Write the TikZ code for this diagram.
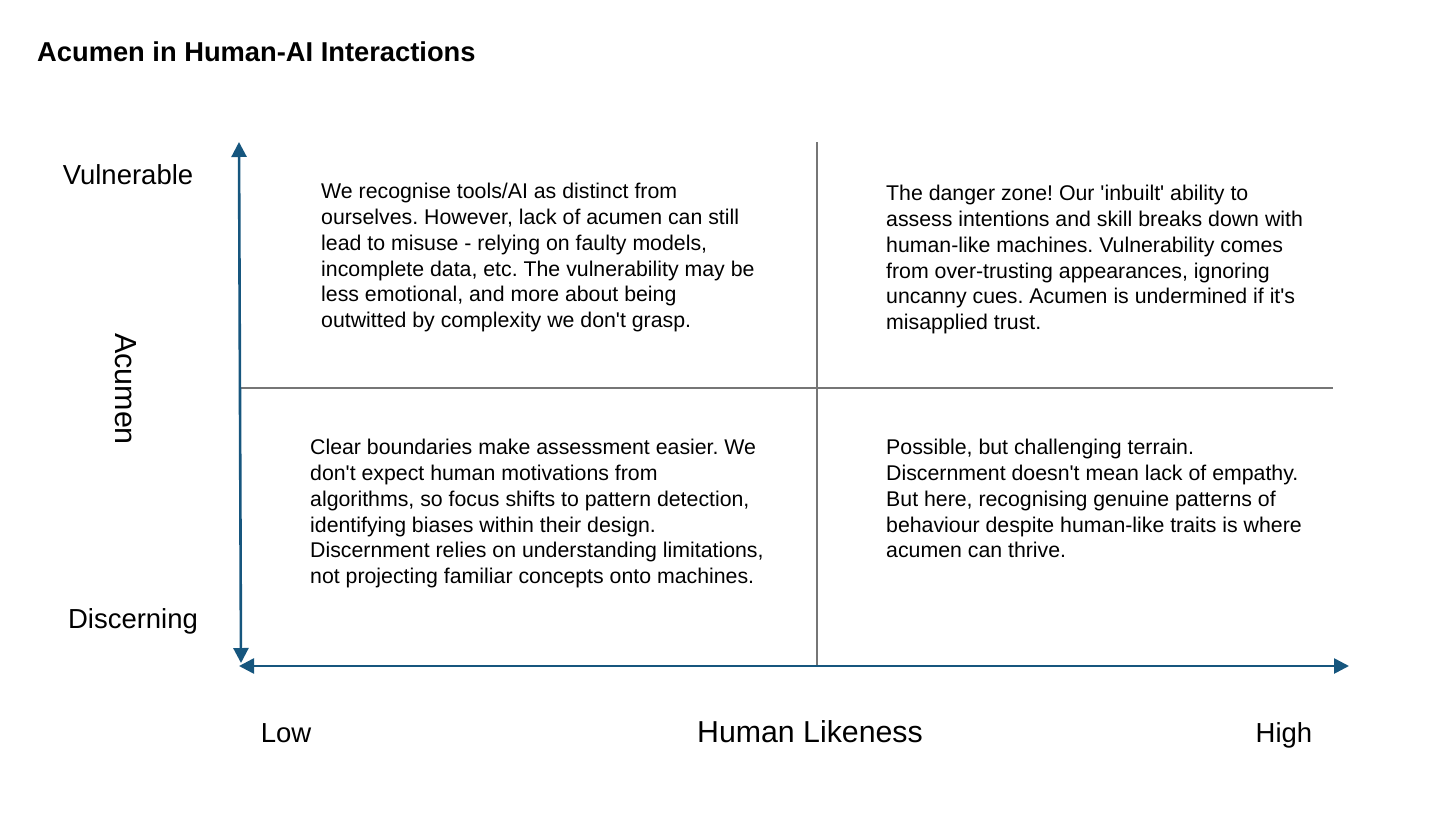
\documentclass[tikz,border=0pt]{standalone}
\usepackage{fontspec}
\setmainfont{Liberation Sans}
\usepackage{xcolor}
\usetikzlibrary{arrows.meta}
\definecolor{acuaxis}{RGB}{22, 86, 126}
\definecolor{acugrid}{RGB}{118, 118, 118}
\frenchspacing

\begin{document}
\begin{tikzpicture}[x=1pt, y=-1pt,
    axisarrow/.style={line width=2.6pt, color=acuaxis,
      {Triangle[length=15pt, width=15pt]}-{Triangle[length=15pt, width=15pt]}},
    divider/.style={line width=1.4pt, color=acugrid},
    axislabel/.style={anchor=base, font=\fontsize{27.5}{30}\selectfont},
    quadtext/.style={anchor=north west, inner sep=0pt, align=left,
      font=\fontsize{21.3}{25.8}\selectfont}]
  \useasboundingbox (0,0) rectangle (1456,819);

  % Title
  \node[anchor=base west, inner sep=0pt, font=\fontsize{27.3}{30}\selectfont\bfseries]
    (title) at (37,61) {Acumen in Human-AI Interactions};

  % Quadrant dividers
  \coordinate (divtop) at (817,142);
  \coordinate (divbot) at (817,666);
  \coordinate (divleft) at (240,388);
  \coordinate (divright) at (1333,388);
  \draw[divider] (divtop) -- (divbot);
  \draw[divider] (divleft) -- (divright);

  % Axes
  \coordinate (ytop) at (239,142);
  \coordinate (ybot) at (241,663);
  \coordinate (xleft) at (239,666);
  \coordinate (xright) at (1349,666);
  \draw[axisarrow] (ybot) -- (ytop);
  \draw[axisarrow] (xleft) -- (xright);

  % Axis labels
  \node[axislabel] (vuln) at (128,184) {Vulnerable};
  \node[axislabel] (disc) at (133,628) {Discerning};
  \node[axislabel, anchor=center, rotate=-90, font=\fontsize{30.5}{32}\selectfont]
    (acumen) at (126,389) {Acumen};
  \node[axislabel] (low) at (286,742) {Low};
  \node[axislabel, font=\fontsize{30.3}{32}\selectfont] (likeness) at (810,742) {Human Likeness};
  \node[axislabel] (high) at (1284,742) {High};

  % Quadrants
  \node[quadtext] (topleft) at (321,183) {We recognise tools/AI as distinct from\\
    ourselves. However, lack of acumen can still\\
    lead to misuse - relying on faulty models,\\
    incomplete data, etc. The vulnerability may be\\
    less emotional, and more about being\\
    outwitted by complexity we don\textquotesingle t grasp.};
  \node[quadtext] (topright) at (886,185) {The danger zone! Our \textquotesingle inbuilt\textquotesingle\ ability to\\
    assess intentions and skill breaks down with\\
    human-like machines. Vulnerability comes\\
    from over-trusting appearances, ignoring\\
    uncanny cues. Acumen is undermined if it\textquotesingle s\\
    misapplied trust.};
  \node[quadtext] (botleft) at (310,439) {Clear boundaries make assessment easier. We\\
    don\textquotesingle t expect human motivations from\\
    algorithms, so focus shifts to pattern detection,\\
    identifying biases within their design.\\
    Discernment relies on understanding limitations,\\
    not projecting familiar concepts onto machines.};
  \node[quadtext] (botright) at (886,439) {Possible, but challenging terrain.\\
    Discernment doesn\textquotesingle t mean lack of empathy.\\
    But here, recognising genuine patterns of\\
    behaviour despite human-like traits is where\\
    acumen can thrive.};
\end{tikzpicture}
\end{document}
